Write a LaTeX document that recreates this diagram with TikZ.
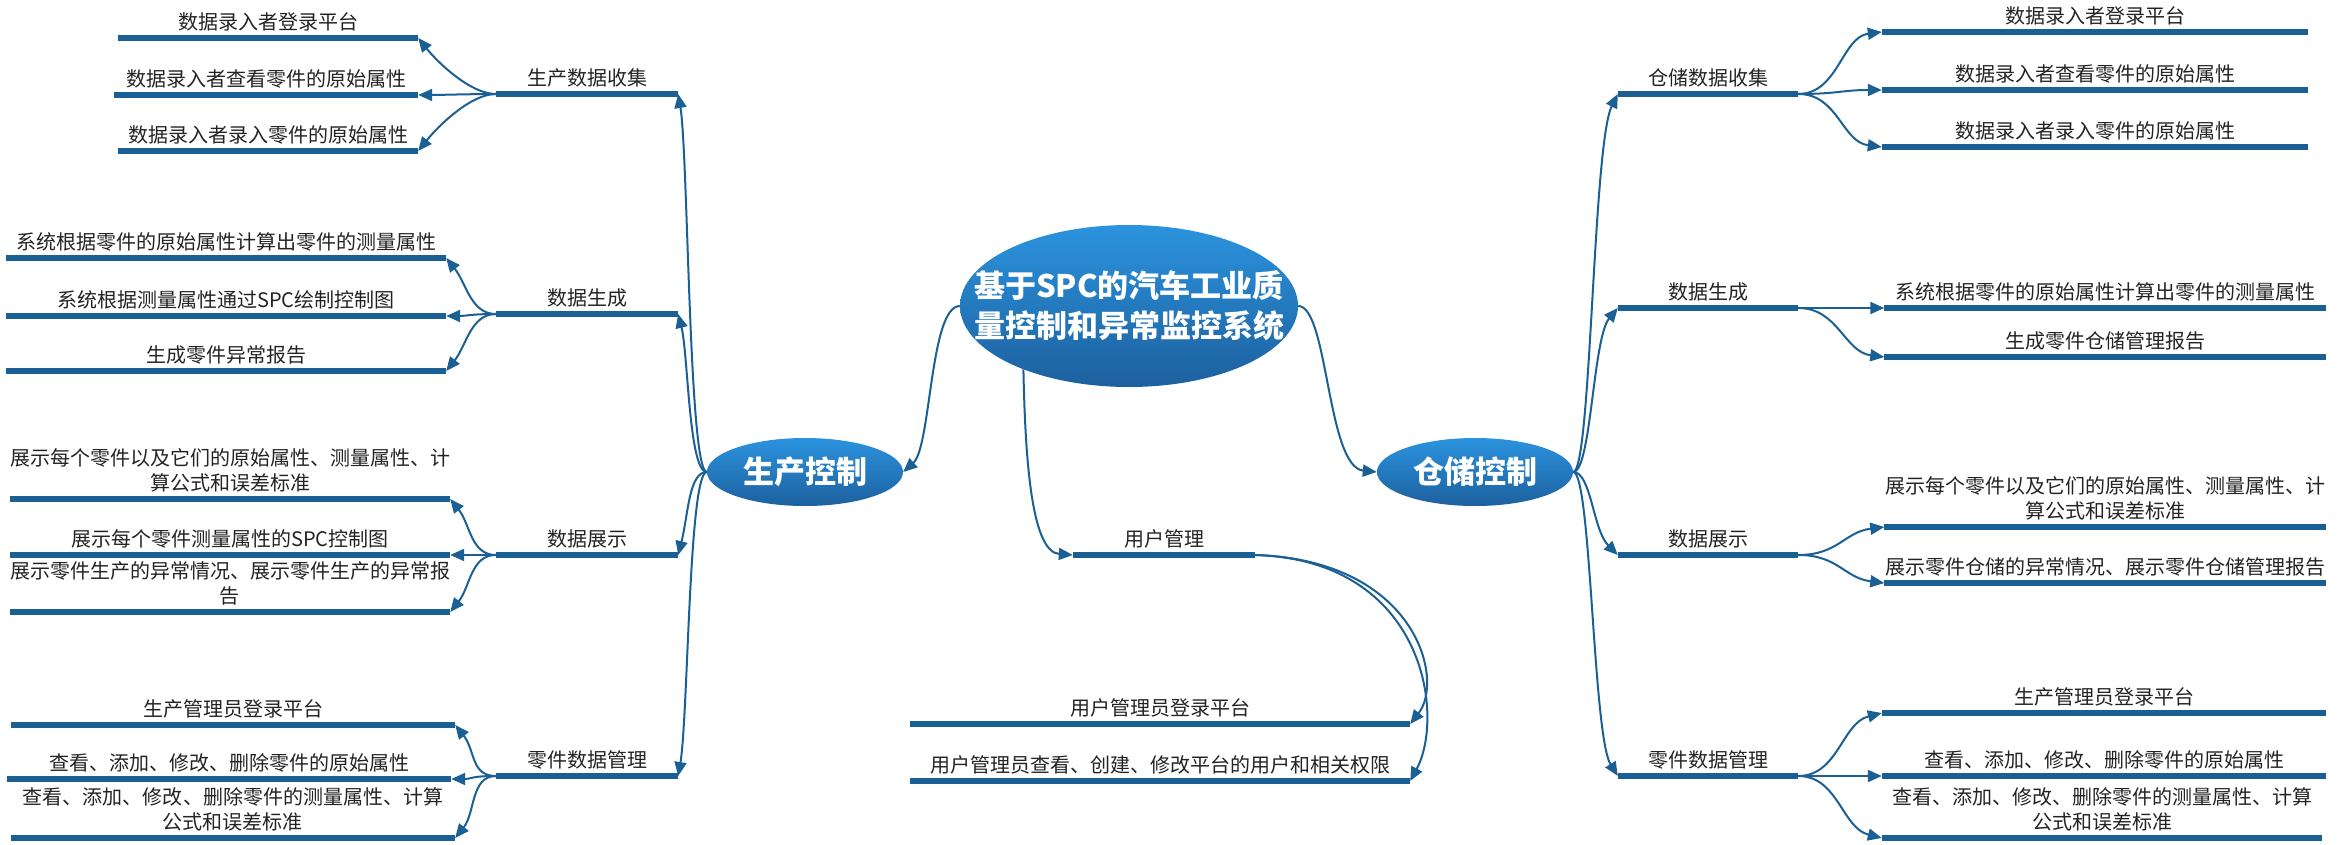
\documentclass[tikz,border=0pt]{standalone}
\usepackage{fontspec}
\setmainfont{Noto Sans CJK SC}
\usepackage{tikz}
\usetikzlibrary{arrows.meta}
\usetikzlibrary{shapes.geometric}

\definecolor{barblue}{RGB}{27,96,148}
\definecolor{topblue}{RGB}{43,147,222}
\definecolor{botblue}{RGB}{29,96,158}
\definecolor{labelgray}{RGB}{35,35,35}

\tikzset{
  topic/.style={ellipse,inner sep=0pt,top color=topblue,bottom color=botblue,
    text=white,font=\fontsize{31}{36}\selectfont\bfseries},
  roottext/.style={align=center,inner sep=0pt,text=white,
    font=\fontsize{31}{40}\selectfont\bfseries},
  leaf/.style={anchor=south,text width=#1,align=center,inner xsep=0pt,inner ysep=7pt,
    text=labelgray,font=\fontsize{20}{25}\selectfont},
  barline/.style={draw=barblue,line width=6pt},
  conn/.style={draw=barblue,line width=2pt,-{Triangle[length=14pt,width=12pt]}},
  ltrunk/.style={to path={.. controls +(-18,0) and +(10,#1) .. (\tikztotarget)}},
  rtrunk/.style={to path={.. controls +(18,0) and +(-25,#1) .. (\tikztotarget)}},
  lbranch/.style={to path={.. controls +(-25,0) and +(20,#1) .. (\tikztotarget)}},
  rbranch/.style={to path={.. controls +(40,0) and +(-40,#1) .. (\tikztotarget)}}
}

\begin{document}
\begin{tikzpicture}[x=1pt,y=-1pt]

  \useasboundingbox (0,0) rectangle (2337,845);

  % root and the two main topics
  \node [topic,minimum width=338pt,minimum height=162pt] (central) at (1129,306) {};
  \node [roottext] (centraltext) at (central.center) {基于SPC的汽车工业质\\量控制和异常监控系统};
  \node [topic,minimum width=196pt,minimum height=68pt] (prod) at (805,472) {生产控制};
  \node [topic,minimum width=196pt,minimum height=68pt] (stor) at (1475,472) {仓储控制};

  % production side
  \node [leaf=182pt] (ps1) at (587,94)  {生产数据收集};
  \node [leaf=182pt] (ps2) at (587,314) {数据生成};
  \node [leaf=182pt] (ps3) at (587,555) {数据展示};
  \node [leaf=182pt] (ps4) at (587,776) {零件数据管理};

  \node [leaf=300pt] (pc11) at (268,38)  {数据录入者登录平台};
  \node [leaf=304pt] (pc12) at (266,95)  {数据录入者查看零件的原始属性};
  \node [leaf=300pt] (pc13) at (268,151) {数据录入者录入零件的原始属性};

  \node [leaf=440pt] (pc21) at (226,258) {系统根据零件的原始属性计算出零件的测量属性};
  \node [leaf=440pt] (pc22) at (226,316) {系统根据测量属性通过SPC绘制控制图};
  \node [leaf=440pt] (pc23) at (226,371) {生成零件异常报告};

  \node [leaf=440pt] (pc31) at (230,499) {展示每个零件以及它们的原始属性、测量属性、计\\算公式和误差标准};
  \node [leaf=440pt] (pc32) at (230,555) {展示每个零件测量属性的SPC控制图};
  \node [leaf=440pt] (pc33) at (230,612) {展示零件生产的异常情况、展示零件生产的异常报\\告};

  \node [leaf=444pt] (pc41) at (233,725) {生产管理员登录平台};
  \node [leaf=444pt] (pc42) at (229,779) {查看、添加、修改、删除零件的原始属性};
  \node [leaf=444pt] (pc43) at (233,838) {查看、添加、修改、删除零件的测量属性、计算\\公式和误差标准};

  % storage side
  \node [leaf=180pt] (ss1) at (1708,94)  {仓储数据收集};
  \node [leaf=180pt] (ss2) at (1708,308) {数据生成};
  \node [leaf=180pt] (ss3) at (1708,555) {数据展示};
  \node [leaf=180pt] (ss4) at (1708,776) {零件数据管理};

  \node [leaf=426pt] (sc11) at (2095,32)  {数据录入者登录平台};
  \node [leaf=426pt] (sc12) at (2095,90)  {数据录入者查看零件的原始属性};
  \node [leaf=426pt] (sc13) at (2095,147) {数据录入者录入零件的原始属性};

  \node [leaf=441pt] (sc21) at (2105,308) {系统根据零件的原始属性计算出零件的测量属性};
  \node [leaf=441pt] (sc22) at (2105,357) {生成零件仓储管理报告};

  \node [leaf=441pt] (sc31) at (2105,527) {展示每个零件以及它们的原始属性、测量属性、计\\算公式和误差标准};
  \node [leaf=441pt] (sc32) at (2105,583) {展示零件仓储的异常情况、展示零件仓储管理报告};

  \node [leaf=444pt] (sc41) at (2104,713) {生产管理员登录平台};
  \node [leaf=444pt] (sc42) at (2104,776) {查看、添加、修改、删除零件的原始属性};
  \node [leaf=440pt] (sc43) at (2102,838) {查看、添加、修改、删除零件的测量属性、计算\\公式和误差标准};

  % user management
  \node [leaf=182pt] (user) at (1164,555) {用户管理};
  \node [leaf=500pt] (uc1) at (1160,724) {用户管理员登录平台};
  \node [leaf=500pt] (uc2) at (1160,781) {用户管理员查看、创建、修改平台的用户和相关权限};

  \foreach \n in {ps1,ps2,ps3,ps4,pc11,pc12,pc13,pc21,pc22,pc23,pc31,pc32,pc33,pc41,pc42,pc43,
                  ss1,ss2,ss3,ss4,sc11,sc12,sc13,sc21,sc22,sc31,sc32,sc41,sc42,sc43,user,uc1,uc2}
    \draw [barline] (\n.south west) -- (\n.south east);

  \path [conn] (central.west) .. controls +(-30,0) and +(28,-25) .. (prod.east);
  \path [conn] (central.east) .. controls +(30,0) and +(-50,-5) .. (stor.west);
  \path [conn] (central.-149) .. controls +(2,100) and +(-40,-3) .. (user.south west);

  \path
    (prod.west) edge [conn,ltrunk=60]  (ps1.south east)
                edge [conn,ltrunk=40]  (ps2.south east)
                edge [conn,ltrunk=-40] (ps3.south east)
                edge [conn,ltrunk=-60] (ps4.south east);

  \path
    (stor.east) edge [conn,rtrunk=50]  (ss1.south west)
                edge [conn,rtrunk=30]  (ss2.south west)
                edge [conn,rtrunk=-25] (ss3.south west)
                edge [conn,rtrunk=-40] (ss4.south west);

  \path (ps1.south west) edge [conn,lbranch=25] (pc11.south east) edge [conn,lbranch=0] (pc12.south east) edge [conn,lbranch=-25] (pc13.south east);
  \path (ps2.south west) edge [conn,lbranch=25] (pc21.south east) edge [conn,lbranch=0] (pc22.south east) edge [conn,lbranch=-25] (pc23.south east);
  \path (ps3.south west) edge [conn,lbranch=25] (pc31.south east) edge [conn,lbranch=0] (pc32.south east) edge [conn,lbranch=-25] (pc33.south east);
  \path (ps4.south west) edge [conn,lbranch=25] (pc41.south east) edge [conn,lbranch=0] (pc42.south east) edge [conn,lbranch=-25] (pc43.south east);

  \path (ss1.south east) edge [conn,rbranch=5] (sc11.south west) edge [conn,rbranch=0] (sc12.south west) edge [conn,rbranch=-5] (sc13.south west);
  \path (ss2.south east) edge [conn,rbranch=0] (sc21.south west) edge [conn,rbranch=-5] (sc22.south west);
  \path (ss3.south east) edge [conn,rbranch=5] (sc31.south west) edge [conn,rbranch=-5] (sc32.south west);
  \path (ss4.south east) edge [conn,rbranch=10] (sc41.south west) edge [conn,rbranch=0] (sc42.south west) edge [conn,rbranch=-10] (sc43.south west);

  \path [conn] (user.south east) .. controls +(160,5) and +(35,-45) .. (uc1.south east);
  \path [conn] (user.south east) .. controls +(170,5) and +(35,-65) .. (uc2.south east);

\end{tikzpicture}
\end{document}
